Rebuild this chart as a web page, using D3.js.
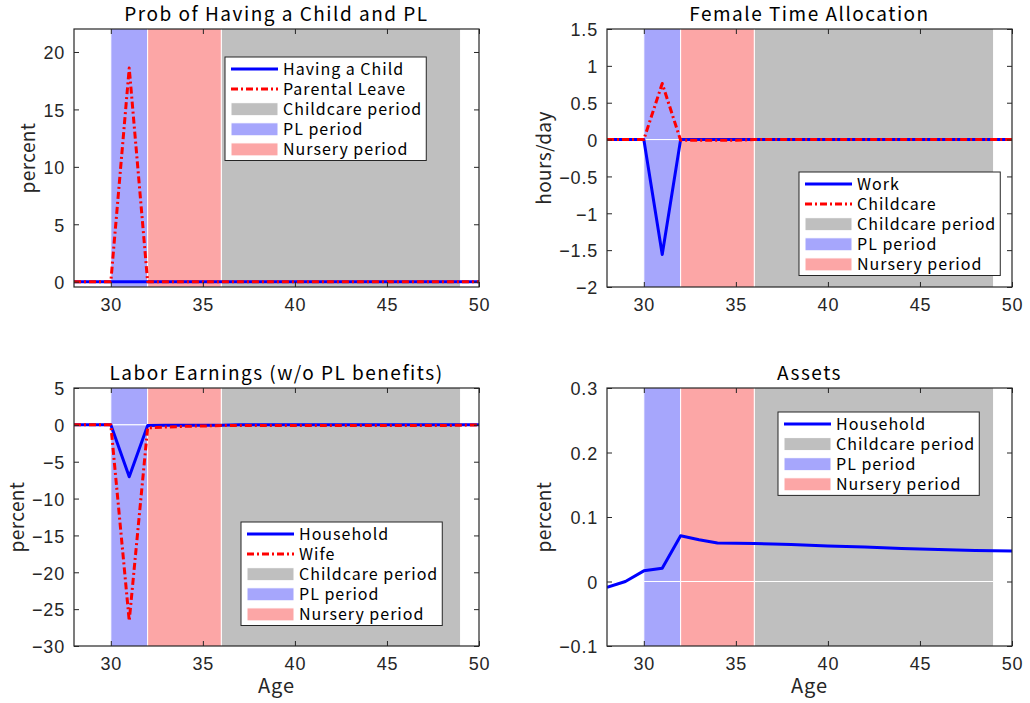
<!DOCTYPE html>
<html><head><meta charset="utf-8">
<script src="https://cdn.jsdelivr.net/npm/d3@7"></script>
<style>
html,body{margin:0;padding:0;background:#fff;}
svg{display:block;font-family:"Noto Sans CJK JP","Noto Sans",sans-serif;}
</style></head>
<body><svg id="c" width="1030" height="703"></svg>
<script>
// ---------- data ----------
const ages = [28,29,30,31,32,33,34,35,36,37,38,39,40,41,42,43,44,45,46,47,48,49,50];
const xTicks = [30,35,40,45,50];

// Panel 1: Prob of Having a Child and PL (percent)
const havingChild   = [0,0,0,0,0,0,0,0,0,0,0,0,0,0,0,0,0,0,0,0,0,0,0];
const parentalLeave = [0,0,0,18.6,0,0,0,0,0,0,0,0,0,0,0,0,0,0,0,0,0,0,0];
const yTicks1 = [0,5,10,15,20];

// Panel 2: Female Time Allocation (hours/day)
const work      = [0,0,0,-1.56,0,0,0,0,0,0,0,0,0,0,0,0,0,0,0,0,0,0,0];
const childcare = [0,0,0,0.76,-0.01,-0.01,-0.01,-0.01,0,0,0,0,0,0,0,0,0,0,0,0,0,0,0];
const yTicks2 = [-2,-1.5,-1,-0.5,0,0.5,1,1.5];

// Panel 3: Labor Earnings (w/o PL benefits) (percent)
const earnHousehold = [0,0,0,-7.05,-0.1,-0.05,-0.05,-0.05,-0.05,0,0,0,0,0,0,0,0,0,0,0,0,0,0];
const earnWife      = [0,0,0,-26.6,-0.4,-0.3,-0.2,-0.15,-0.1,-0.1,-0.1,-0.1,-0.1,-0.1,-0.1,-0.1,-0.1,-0.1,-0.1,-0.1,-0.1,-0.05,0];
const yTicks3 = [-30,-25,-20,-15,-10,-5,0,5];

// Panel 4: Assets (percent)
const assetsHousehold = [-0.009,0,0.0165,0.0207,0.0708,0.0648,0.0596,0.0594,0.0588,0.0580,0.0572,0.0562,0.0552,0.0543,0.0533,0.0522,0.0512,0.0502,0.0495,0.0488,0.0482,0.0477,0.0472];
const yTicks4 = [-0.1,0,0.1,0.2,0.3];

// shaded periods [start, end]
const plPeriod = [30,32];
const nurseryPeriod = [32,36];
const childcarePeriod = [36,49];

// ---------- drawing ----------
const BLUE="#0000ff", RED="#ff0000";
const C_GRAY="#bfbfbf", C_PL="#a6a6fc", C_NUR="#fca6a6";
const DASH="7,3,2,3";
const fmt = v => String(v).replace("-", "\u2212");

const svg = d3.select("#c");
const defs = svg.append("defs");

const panels = [
  {x0:74, x1:479, y0:29, y1:287, ydom:[-0.46,22], yt:yTicks1, title:"Prob of Having a Child and PL", ylabel:"percent", ylx:28,
   series:[{name:"Having a Child", v:havingChild, c:BLUE, dash:null},{name:"Parental Leave", v:parentalLeave, c:RED, dash:DASH}],
   leg:[225,57], xlabel:false},
  {x0:607, x1:1012, y0:29, y1:287, ydom:[-2,1.5], yt:yTicks2, title:"Female Time Allocation", ylabel:"hours/day", ylx:544,
   series:[{name:"Work", v:work, c:BLUE, dash:null},{name:"Childcare", v:childcare, c:RED, dash:DASH}],
   leg:[799,172], xlabel:false},
  {x0:74, x1:479, y0:388, y1:646, ydom:[-30,5], yt:yTicks3, title:"Labor Earnings (w/o PL benefits)", ylabel:"percent", ylx:17,
   series:[{name:"Household", v:earnHousehold, c:BLUE, dash:null},{name:"Wife", v:earnWife, c:RED, dash:DASH}],
   leg:[241,522], xlabel:true},
  {x0:607, x1:1012, y0:388, y1:646, ydom:[-0.1,0.3], yt:yTicks4, title:"Assets", ylabel:"percent", ylx:544,
   series:[{name:"Household", v:assetsHousehold, c:BLUE, dash:null}],
   leg:[778,412], xlabel:true}
];

const AX="#262626";

panels.forEach((p,i) => {
  const x = d3.scaleLinear().domain([28,50]).range([p.x0,p.x1]);
  const y = d3.scaleLinear().domain(p.ydom).range([p.y1,p.y0]);
  const g = svg.append("g");
  const cid = "clip"+i;
  defs.append("clipPath").attr("id",cid).append("rect")
    .attr("x",p.x0).attr("y",p.y0).attr("width",p.x1-p.x0).attr("height",p.y1-p.y0);
  const pg = g.append("g").attr("clip-path",`url(#${cid})`);

  // bands: two parts (above and below 0) each
  const bands = [[childcarePeriod,C_GRAY],[plPeriod,C_PL],[nurseryPeriod,C_NUR]];
  bands.forEach(([b,col]) => {
    [[0,p.ydom[1]+100],[p.ydom[0]-100,0]].forEach(([lo,hi]) => {
      pg.append("rect")
        .attr("x",x(b[0])).attr("width",x(b[1])-x(b[0]))
        .attr("y",y(hi)).attr("height",y(lo)-y(hi))
        .attr("fill",col).attr("stroke","#ffffff").attr("stroke-width",1);
    });
  });

  // lines
  p.series.forEach(s => {
    const line = d3.line().x((d,j)=>x(ages[j])).y(d=>y(d));
    pg.append("path").datum(s.v).attr("d",line)
      .attr("fill","none").attr("stroke",s.c).attr("stroke-width",3)
      .attr("stroke-linejoin","round")
      .attr("stroke-dasharray",s.dash);
  });

  // box
  g.append("rect").attr("x",p.x0).attr("y",p.y0).attr("width",p.x1-p.x0).attr("height",p.y1-p.y0)
    .attr("fill","none").attr("stroke",AX).attr("stroke-width",1.2);

  // axes with inner ticks
  const TL=5;
  const xb = d3.axisBottom(x).tickValues(xTicks).tickSize(TL).tickFormat(fmt);
  const xa = g.append("g").attr("transform",`translate(0,${p.y1})`).call(xb);
  xa.select(".domain").remove();
  xa.selectAll(".tick line").attr("y2",-TL).attr("stroke",AX);
  xa.selectAll(".tick text").attr("y",11).attr("dy","0.71em")
    .style("font-size","18px").style("letter-spacing","0.8px").attr("fill","#262626");
  const xt = g.append("g").attr("transform",`translate(0,${p.y0})`).call(d3.axisTop(x).tickValues(xTicks).tickFormat(""));
  xt.select(".domain").remove();
  xt.selectAll(".tick line").attr("y2",TL).attr("stroke",AX);

  const yl = d3.axisLeft(y).tickValues(p.yt).tickFormat(fmt);
  const ya = g.append("g").attr("transform",`translate(${p.x0},0)`).call(yl);
  ya.select(".domain").remove();
  ya.selectAll(".tick line").attr("x2",TL).attr("stroke",AX);
  ya.selectAll(".tick text").attr("x",-9).attr("dy","0.38em")
    .style("font-size","18px").style("letter-spacing","0.8px").attr("fill","#262626");
  const yr = g.append("g").attr("transform",`translate(${p.x1},0)`).call(d3.axisRight(y).tickValues(p.yt).tickFormat(""));
  yr.select(".domain").remove();
  yr.selectAll(".tick line").attr("x2",-TL).attr("stroke",AX);
  svg.selectAll(".tick").attr("font-family",null);

  // title
  g.append("text").attr("x",(p.x0+p.x1)/2).attr("y",p.y0-8)
    .attr("text-anchor","middle").style("font-size","19px").style("letter-spacing","1.5px")
    .attr("fill","#000").text(p.title);
  // y label
  g.append("text").attr("transform",`translate(${p.ylx},${(p.y0+p.y1)/2}) rotate(-90)`)
    .attr("text-anchor","middle").attr("dy","0.35em").style("font-size","19px").style("letter-spacing","0.4px")
    .attr("fill","#262626").text(p.ylabel);
  if (p.xlabel) {
    g.append("text").attr("x",(p.x0+p.x1)/2).attr("y",p.y1+47)
      .attr("text-anchor","middle").style("font-size","20px").style("letter-spacing","1px")
      .attr("fill","#262626").text("Age");
  }

  // legend
  const entries = p.series.map(s=>({type:"line",name:s.name,c:s.c,dash:s.dash}))
    .concat([{type:"patch",name:"Childcare period",c:C_GRAY},{type:"patch",name:"PL period",c:C_PL},{type:"patch",name:"Nursery period",c:C_NUR}]);
  const [lx,ly] = p.leg;
  const lg = g.append("g").attr("transform",`translate(${lx},${ly})`);
  const box = lg.append("rect").attr("fill","#fff").attr("stroke",AX).attr("stroke-width",1);
  let maxW=0;
  entries.forEach((e,k) => {
    const cy = 12 + k*20.1;
    if (e.type==="line") {
      lg.append("line").attr("x1",6).attr("x2",53).attr("y1",cy).attr("y2",cy)
        .attr("stroke",e.c).attr("stroke-width",3).attr("stroke-dasharray",e.dash);
    } else {
      lg.append("rect").attr("x",6).attr("y",cy-6.5).attr("width",47).attr("height",13)
        .attr("fill",e.c).attr("stroke","#fff").attr("stroke-width",1);
    }
    const t = lg.append("text").attr("x",58).attr("y",cy).attr("dy","0.36em")
      .style("font-size","16px").style("letter-spacing","1px").attr("fill","#000").text(e.name);
    maxW = Math.max(maxW, t.node().getComputedTextLength());
  });
  box.attr("x",0).attr("y",0).attr("width",58+maxW+4).attr("height",entries.length*20.1+3);
});
</script></body></html>
